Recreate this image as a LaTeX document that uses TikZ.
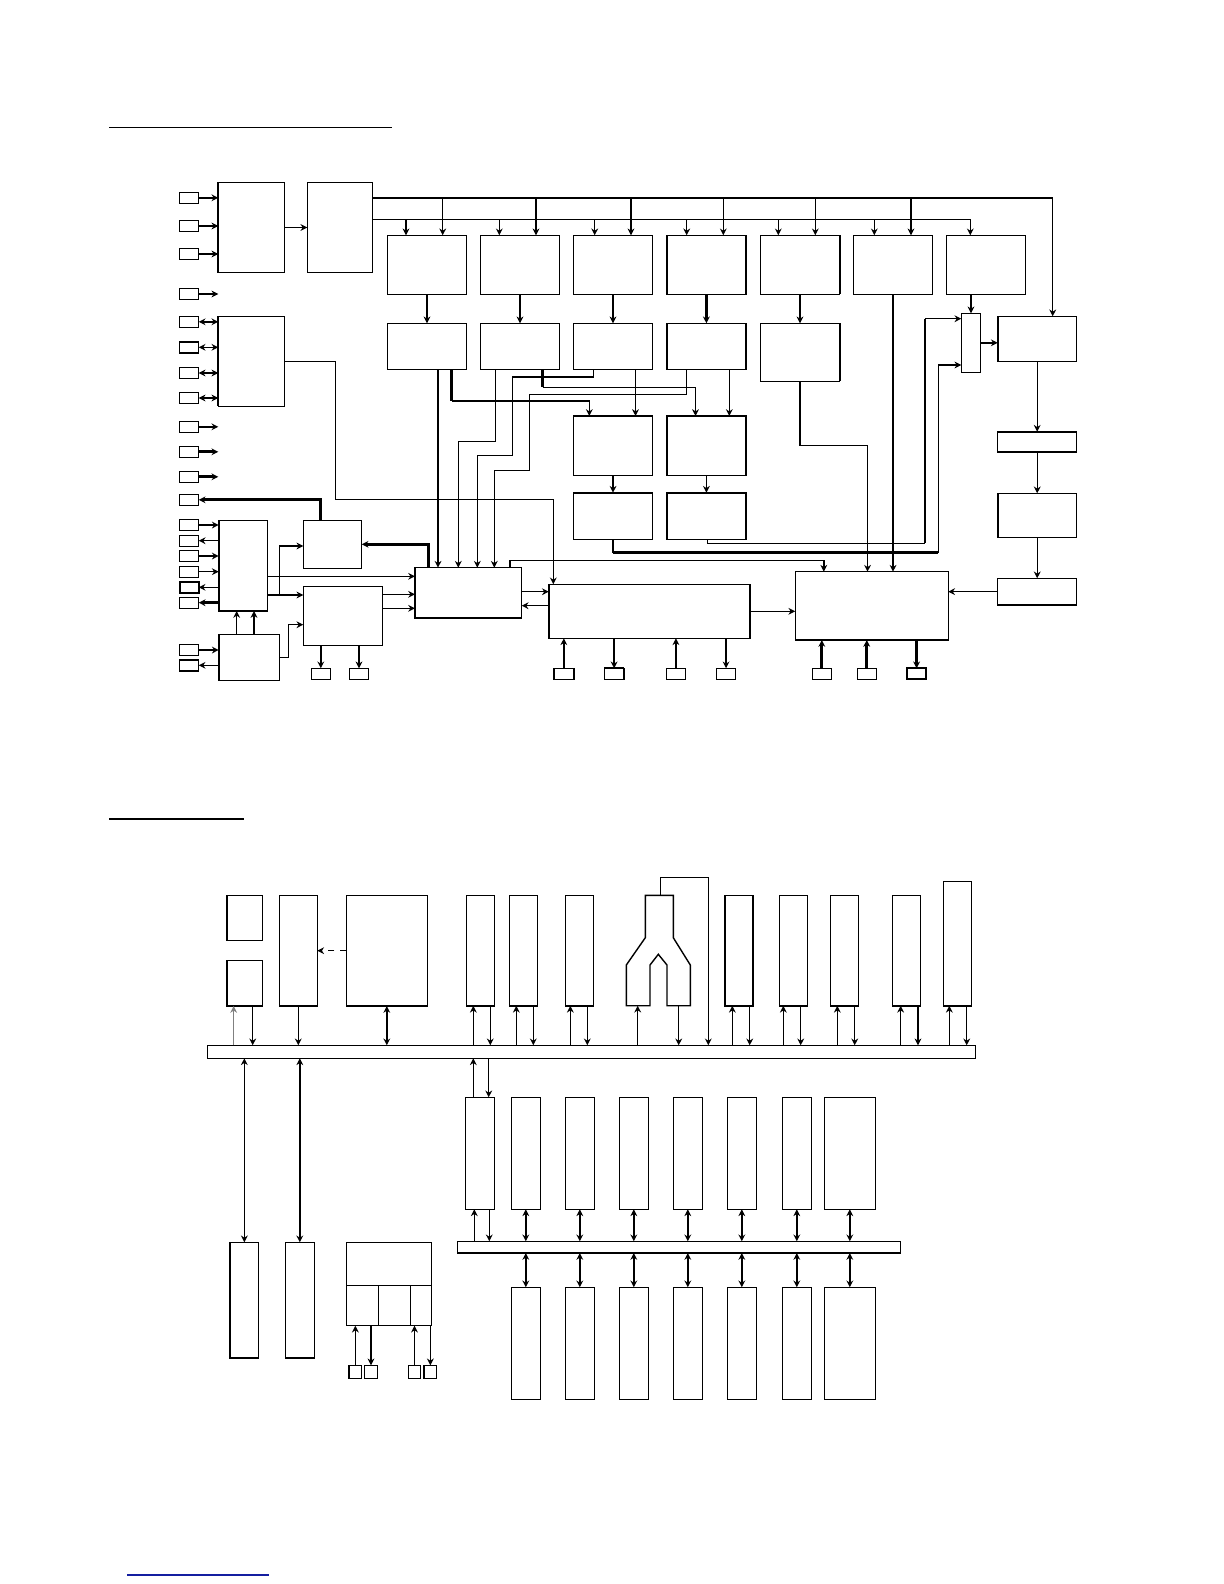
\documentclass[tikz,border=0pt]{standalone}
\usetikzlibrary{arrows.meta,fit,calc}
\newcommand\bx[6][]{\path (#3,#4) coordinate (#2-nw) (#5,#6) coordinate (#2-se);\node[bxs,fit=(#2-nw)(#2-se),#1] (#2) {};}
\newcommand\tke[3]{\draw[line width=1.1pt] (#1.#2) -- (#1.#3);}
\tikzset{
 bxs/.style={draw,line width=0.7pt,inner sep=0pt,outer sep=0pt},
 w/.style={line width=0.7pt},
 tk/.style={line width=1.4pt},
 ar/.style={-{Stealth[length=3.4pt,width=3.4pt]}},
 ra/.style={{Stealth[length=3.4pt,width=3.4pt]}-},
 dar/.style={{Stealth[length=3.4pt,width=3.4pt]}-{Stealth[length=3.4pt,width=3.4pt]}}
}
\begin{document}
\begin{tikzpicture}[x=0.5pt,y=-0.5pt]
\useasboundingbox (0,0) rectangle (1224,1584);
% ================= TOP DIAGRAM =================
\draw[w] (109,127.3) -- (392,127.3);
% left pins
\foreach \n/\y in {L1/197.8,L2/226,L3/254,L4/294,L5/321.8,L6/347.3,L7/373,L8/398,L9/426.8,L10/451.8,L11/476.8,L12/499.8,L13/525,L14/540.7,L15/556,L16/571.7,L17/587.3,L18/602.7,L19/650,L20/665.3}
 {\bx{\n}{179.5}{\y-5.5}{198.7}{\y+5.5}}
\tke{L6}{north west}{north east}
\draw[line width=1pt] (L17.north west) rectangle (L17.south east);
% main blocks
\bx{A}{218.3}{182.3}{284.7}{272.7}
\bx{B}{307.3}{182.3}{372.7}{272.7}
\bx{C}{218.3}{316.3}{284.7}{406.3}
\foreach \i/\x in {1/387.3,2/480.3,3/573.3,4/666.7,5/760.3,6/853.3,7/946.3}
 {\bx{r\i}{\x}{235.3}{\x+79.4}{294.3}}
\foreach \i/\x in {1/387.3,2/480.3,3/573.3,4/666.7}
 {\bx{s\i}{\x}{323.3}{\x+79.4}{369.3}}
\bx{s5}{760.3}{323.3}{839.7}{381.3}
\bx{mux}{961.3}{313.3}{980.7}{372.3}
\bx{R1}{997.7}{316.3}{1076.7}{361.3}
\bx{R2}{997.7}{431.7}{1076.7}{452.3}
\bx{R3}{997.7}{493.3}{1076.7}{537.3}
\bx{R4}{997.7}{578.3}{1076.7}{605}
\bx{M1}{573.3}{416}{652.7}{475.3}
\bx{M2}{666.7}{416}{746.1}{475.3}
\bx{M3}{573.3}{492.7}{652.7}{539.3}
\bx{M4}{666.7}{492.7}{746.1}{539.3}
\bx{D}{303.3}{520.3}{361.7}{568.3}
\bx{E}{218.7}{520.3}{267.3}{611}
\bx{F}{218.7}{634.3}{279.3}{680.3}
\bx{G}{303.3}{586.3}{382.7}{645.7}
\bx{CPU}{415}{567.7}{521.7}{618.3}
\bx{LONG}{548.8}{584.3}{749.9}{638.3}
\bx{BIG}{795.2}{571.7}{948.2}{640}
\foreach \n/\a/\b in {g1/311.3/330.3,g2/349.3/368.7,l1/553.9/573.8,l2/604.4/623.9,l3/666.4/685.5,l4/716.5/735.6,b1/812.3/831.3,b2/857.2/876.3,b3/906.9/926.3}
 {\bx{\n}{\a}{668.3}{\b}{679.3}}
% thick edges
\tke{A}{north west}{south west}
\tke{C}{north west}{south west}
\tke{E}{north west}{south west}\tke{E}{south west}{south east}
\tke{F}{north west}{south west}
\tke{CPU}{north west}{south west}\tke{CPU}{south west}{south east}
\tke{r4}{north west}{south west}\tke{s4}{north west}{south west}
\tke{r5}{north east}{south east}\tke{s5}{north east}{south east}
\tke{M2}{north west}{south west}
\tke{M3}{north west}{north east}
\tke{M4}{north west}{north east}\tke{M4}{north west}{south west}
\tke{R1}{north west}{south west}
\tke{R2}{north west}{north east}\tke{R2}{south west}{south east}
\tke{R3}{north west}{south west}
\tke{R4}{south west}{south east}
\draw[line width=1pt] (b3.north west) rectangle (b3.south east);
\tke{l1}{north west}{south west}\tke{l2}{north west}{north east}
% pin arrows
\draw[w,ar] (L1.east) -- (L1.east -| A.west);
\draw[tk,ar] (L2.east) -- (L2.east -| A.west);
\draw[tk,ar] (L3.east) -- (L3.east -| A.west);
\draw[w,ar] (L4.east) -- (L4.east -| A.west);
\foreach \n in {L5,L6,L7,L8} {\draw[w,dar] (\n.east) -- (\n.east -| C.west);}
\draw[w,ar] (L9.east) -- (L9.east -| C.west);
\draw[tk,ar] (L10.east) -- (L10.east -| C.west);
\draw[tk,ar] (L11.east) -- (L11.east -| C.west);
\draw[tk,ar] (D.north -| 320.7,0) |- (L12.east);
\draw[w,ar] (L13.east) -- (L13.east -| E.west);
\draw[w,ra] (L14.east) -- (L14.east -| E.west);
\draw[w,ar] (L15.east) -- (L15.east -| E.west);
\draw[w,ar] (L16.east) -- (L16.east -| E.west);
\draw[w,ra] (L17.east) -- (L17.east -| E.west);
\draw[tk,ra] (L18.east) -- (L18.east -| E.west);
\draw[w,ar] (L19.east) -- (L19.east -| F.west);
\draw[w,ra] (L20.east) -- (L20.east -| F.west);
% buses
\draw[w,ar] (A.east) -- (B.west);
\draw[tk] (B.east |- 0,198) -- (1052.7,198);
\draw[w,ar] (1052.7,198) -- (R1.north -| 1052.7,0);
\draw[w,ar] (B.east |- 0,219.3) -| (r7.north -| 970.3,0);
\draw[tk,ar] (536,198) -- (r2.north -| 536,0);
\draw[tk,ar] (631,198) -- (r3.north -| 631,0);
\draw[tk,ar] (911,198) -- (r6.north -| 911,0);
\draw[w,ar] (442.7,198) -- (r1.north -| 442.7,0);
\draw[w,ar] (723.3,198) -- (r4.north -| 723.3,0);
\draw[w,ar] (815.3,198) -- (r5.north -| 815.3,0);
\draw[tk,ar] (406,219.3) -- (r1.north -| 406,0);
\draw[w,ar] (499.3,219.3) -- (r2.north -| 499.3,0);
\draw[w,ar] (594.7,219.3) -- (r3.north -| 594.7,0);
\draw[w,ar] (686.7,219.3) -- (r4.north -| 686.7,0);
\draw[w,ar] (778.3,219.3) -- (r5.north -| 778.3,0);
\draw[w,ar] (874.3,219.3) -- (r6.north -| 874.3,0);
% row1 -> row2
\draw[w,ar] (r1.south) -- (s1.north);
\draw[w,ar] (r2.south) -- (s2.north);
\draw[w,ar] (r3.south) -- (s3.north);
\draw[tk,ar] (r4.south) -- (s4.north);
\draw[w,ar] (r5.south) -- (s5.north);
\draw[w,ar] (r6.south) -- (r6.south |- BIG.north);
\draw[w,ar] (mux.north |- r7.south) -- (mux.north);
\draw[w,ar] (mux.east) -- (mux.east -| R1.west);
\draw[w,ar] (R1.south) -- (R1.south |- R2.north);
\draw[w,ar] (R2.south) -- (R2.south |- R3.north);
\draw[w,ar] (R3.south) -- (R3.south |- R4.north);
\draw[w,ar] (R4.west) -- (R4.west -| BIG.east);
% row2 wiring
\draw[tk,ar] (s1.south -| 438,0) -- (CPU.north -| 438,0);
\draw[tk] (s1.south -| 451.7,0) -- (451.7,401);
\draw[w,ar] (451.7,401) -| (M1.north -| 589.3,0);
\draw[w,ar] (s2.south -| 495.7,0) |- (458.3,441.3) -- (CPU.north -| 458.3,0);
\draw[w,ar] (s3.south -| 593.3,0) |- (512.3,377) |- (477.3,455.3) -- (CPU.north -| 477.3,0);
\draw[tk] (s2.south -| 542.7,0) -- (542.7,387.3);
\draw[w,ar] (542.7,387.3) -| (M2.north -| 695.5,0);
\draw[w,ar] (s4.south -| 686.3,0) |- (529.3,394.3) |- (494.3,470.3) -- (CPU.north -| 494.3,0);
\draw[w,ar] (s3.south -| 635.5,0) -- (M1.north -| 635.5,0);
\draw[w,ar] (s4.south -| 729.3,0) -- (M2.north -| 729.3,0);
\draw[w,ar] (s5.south) |- (867.5,445.3) -- (BIG.north -| 867.5,0);
\draw[w,ar] (M1.south) -- (M3.north);
\draw[w,ar] (M2.south) -- (M4.north);
\draw[w] (M3.south) -- (M3.south |- 0,552.7);
\draw[tk] (M3.south |- 0,552.7) -- (938.3,552.7);
\draw[w,ar] (938.3,552.7) |- (mux.west |- 0,365);
\draw[w] (M4.south -| 707.7,0) |- (925,543.3);
\draw[tk] (925,543.3) -- (925,318.7);
\draw[w,ar] (925,318.7) -- (mux.west |- 0,318.7);
% lower left wiring
\draw[w,ar] (C.east) -| (335.5,499.3) -| (LONG.north -| 553.3,0);
\draw[tk,ar] (CPU.north -| 428.7,0) |- (D.east);
\draw[w,ar] (E.east |- 0,576.3) -- (CPU.west |- 0,576.3);
\draw[tk,ar] (E.east |- 0,595) -- (G.west |- 0,595);
\draw[w,ar] (279.3,595) |- (D.west |- 0,546);
\draw[w,ar] (F.north -| 236.7,0) -- (E.south -| 236.7,0);
\draw[tk,ar] (F.north -| 254,0) -- (E.south -| 254,0);
\draw[w,ar] (F.east |- 0,657.3) -| (288.7,624.7) -- (G.west |- 0,624.7);
\draw[w,ar] (G.east |- 0,594.3) -- (CPU.west |- 0,594.3);
\draw[w,ar] (G.east |- 0,608.3) -- (CPU.west |- 0,608.3);
\draw[w,ar] (G.south -| g1.north) -- (g1.north);
\draw[w,ar] (G.south -| g2.north) -- (g2.north);
\draw[w,ar] (CPU.east |- 0,591.7) -- (LONG.west |- 0,591.7);
\draw[w,ar] (LONG.west |- 0,605.7) -- (CPU.east |- 0,605.7);
\draw[w,ar] (CPU.north -| 510,0) |- (823.8,560.7) -- (BIG.north -| 823.8,0);
\draw[w,ar] (LONG.east) -- (LONG.east -| BIG.west);
\draw[w,ar] (l1.north) -- (l1.north |- LONG.south);
\draw[w,ar] (LONG.south -| l2.north) -- (l2.north);
\draw[w,ar] (l3.north) -- (l3.north |- LONG.south);
\draw[w,ar] (LONG.south -| l4.north) -- (l4.north);
\draw[tk,ar] (b1.north) -- (b1.north |- BIG.south);
\draw[tk,ar] (b2.north) -- (b2.north |- BIG.south);
\draw[tk,ar] (BIG.south -| b3.north) -- (b3.north);
% ================= BOTTOM DIAGRAM =================
\draw[w] (109,819) -- (244.4,819);
\bx{bus1}{207.3}{1045.3}{975.7}{1058.3}
\bx{bus2}{457.3}{1241.3}{900.3}{1253}
\bx{P1}{227}{895.3}{262.7}{940.7}
\bx{P2}{227}{960.3}{262.7}{1006}
\bx{P3}{279.3}{895.3}{317.3}{1006}
\bx{P4}{346.3}{895.3}{427.3}{1006}
\foreach \n/\a in {Q1/466.3,Q2/509.3,Q3/565.3,S1/725,S2/779.3,S3/830.7,S4/892.7}
 {\bx{\n}{\a}{895.3}{\a+28}{1005.8}}
\bx{S5}{943.3}{881.3}{971.3}{1005.8}
% Y-shaped block
\draw[w] (645.3,895.3) -- (673.3,895.3) -- (673.3,937.7) -- (690.3,965) -- (690.3,1005.7) -- (667,1005.7) -- (667,965) -- (658.3,954.3) -- (650,965) -- (650,1005.7) -- (626.3,1005.7) -- (626.3,965) -- (645.3,937.7) -- cycle;
\coordinate (Ybot) at (658.3,1005.7);
\coordinate (Ytop) at (660.3,895.3);
\draw[w,ar] (Ytop) |- (708.3,877.3) -- (bus1.north -| 708.3,0);
\draw[w,ar] (bus1.north -| 637.7,0) -- (Ybot -| 637.7,0);
\draw[w,ar] (Ybot -| 678.7,0) -- (bus1.north -| 678.7,0);
% bus1 upper arrows
\draw[w,ar,draw=gray] (bus1.north -| 233.7,0) -- (P2.south -| 233.7,0);
\draw[w,ar] (P2.south -| 252.7,0) -- (bus1.north -| 252.7,0);
\draw[w,ar] (P3.south) -- (P3.south |- bus1.north);
\draw[w,dar] (P4.south) -- (P4.south |- bus1.north);
\draw[w,ar,dashed] (P4.west) -- (P4.west -| P3.east);
\foreach \n/\u/\d in {Q1/473.3/490.3,Q2/516.3/533.3,Q3/570.3/587.3,S1/732.3/749.7,S2/783.3/800.7,S3/837.3/854.7,S4/900.7/918,S5/949.3/966.7}
 {\draw[w,ar] (bus1.north -| \u,0) -- (\n.south -| \u,0);
  \draw[w,ar] (\n.south -| \d,0) -- (bus1.north -| \d,0);}
% lower left
\bx{V1}{230}{1242.3}{258.7}{1358}
\bx{V2}{285.3}{1242.3}{314.3}{1358}
\draw[w,dar] (bus1.south -| V1.north) -- (V1.north);
\draw[w,dar] (bus1.south -| V2.north) -- (V2.north);
\bx{W}{346.3}{1242.3}{431.7}{1325.7}
\draw[w] (W.west |- 0,1285.3) -- (W.east |- 0,1285.3);
\draw[w] (378.7,1285.3) -- (W.south -| 378.7,0);
\draw[w] (410.7,1285.3) -- (W.south -| 410.7,0);
\foreach \n/\a/\b in {w1/349/361.7,w2/364.7/377.3,w3/408.3/420.7,w4/424/436.7}
 {\bx{\n}{\a}{1365.3}{\b}{1378.3}}
\draw[w,ar] (w1.north) -- (w1.north |- W.south);
\draw[w,ar] (W.south -| w2.north) -- (w2.north);
\draw[w,ar] (w3.north) -- (w3.north |- W.south);
\draw[w,ar] (W.south -| w4.north) -- (w4.north);
% memory columns
\bx{T0}{465.3}{1097.3}{494.3}{1209.3}
\foreach \i/\a/\b in {1/511.3/540.3,2/565.3/594.3,3/619.3/648.3,4/673.3/702.3,5/727.3/756.3,6/782.3/811.3,7/824.3/875.3}
 {\bx{T\i}{\a}{1097.3}{\b}{1209.3}
  \bx{U\i}{\a}{1287.3}{\b}{1399.3}
  \draw[w,dar] (T\i.south) -- (T\i.south |- bus2.north);
  \draw[w,dar] (bus2.south -| U\i.north) -- (U\i.north);}
\draw[w,ar] (T0.north -| 473.3,0) -- (bus1.south -| 473.3,0);
\draw[w,ar] (bus1.south -| 488.7,0) -- (T0.north -| 488.7,0);
\draw[w,ar] (bus2.north -| 474.3,0) -- (T0.south -| 474.3,0);
\draw[w,ar] (T0.south -| 489.3,0) -- (bus2.north -| 489.3,0);
% footer line
\draw[line width=0.8pt,color={rgb,255:red,20;green,30;blue,160}] (127.3,1575) -- (269,1575);
\end{tikzpicture}
\end{document}
